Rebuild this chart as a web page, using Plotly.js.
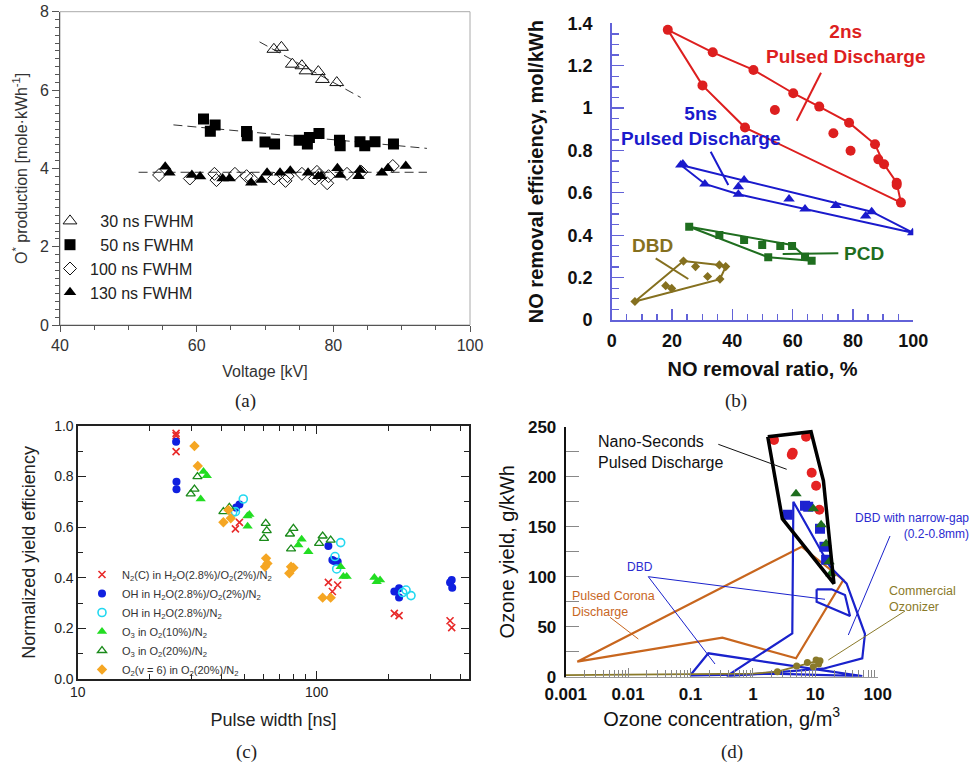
<!DOCTYPE html>
<html>
<head>
<meta charset="utf-8">
<script src="https://cdn.plot.ly/plotly-3.0.1.min.js"></script>
<style>html,body{margin:0;padding:0;background:#fff;}#chart{width:980px;height:767px;}</style>
</head>
<body>
<div id="chart"></div>
<script>
// ---------- Panel (a): O* production vs voltage ----------
const volt30 = [71.3, 72.4, 74.0, 75.4, 76.0, 77.8, 78.4, 80.5];
const prod30 = [7.04, 7.09, 6.66, 6.62, 6.49, 6.47, 6.27, 6.19];
const volt50 = [61.0, 62.0, 62.7, 67.3, 67.4, 70.0, 71.4, 75.0, 76.2, 76.5, 77.9, 80.9, 81.0, 83.9, 84.6, 86.1, 88.8];
const prod50 = [5.26, 4.95, 5.11, 4.94, 4.83, 4.67, 4.62, 4.72, 4.62, 4.79, 4.89, 4.72, 4.58, 4.68, 4.58, 4.68, 4.62];
const volt100 = [54.5, 59.0, 62.6, 62.9, 65.6, 67.3, 68.0, 71.3, 73.0, 73.3, 75.4, 77.3, 77.6, 77.9, 79.1, 79.3, 82.0, 84.1, 88.7];
const prod100 = [3.83, 3.74, 3.86, 3.70, 3.86, 3.80, 3.74, 3.74, 3.68, 3.80, 3.86, 3.74, 3.91, 3.83, 3.62, 3.80, 3.86, 3.91, 4.06];
const volt130 = [55.4, 56.0, 59.3, 60.5, 63.8, 64.8, 68.0, 69.5, 70.3, 72.2, 73.7, 76.3, 77.8, 78.2, 80.6, 81.0, 83.7, 83.9, 87.1, 88.0, 90.6];
const prod130 = [4.04, 3.89, 3.83, 3.79, 3.74, 3.74, 3.63, 3.70, 3.89, 3.89, 3.94, 3.89, 3.80, 3.80, 4.00, 3.83, 3.80, 3.96, 3.89, 4.00, 4.06];
const fit30V = [69.2, 84.0], fit30P = [7.23, 5.81];
const fit50V = [56.6, 93.7], fit50P = [5.11, 4.51];
const fitLowV = [51.5, 93.7], fitLowP = [3.90, 3.90];
const legendA = ['\u2007\u200a30 ns FWHM', '\u2007\u200a50 ns FWHM', '100 ns FWHM', '130 ns FWHM'];

// ---------- Panel (b): NO removal ----------
const ratio2ns = [18.6, 33.5, 47.0, 30.1, 60.2, 54.1, 68.8, 44.2, 78.7, 73.5, 87.3, 79.2, 88.4, 90.3, 94.5, 94.5, 95.9];
const eff2ns   = [1.369, 1.263, 1.180, 1.107, 1.070, 0.991, 1.007, 0.908, 0.931, 0.881, 0.829, 0.799, 0.758, 0.735, 0.648, 0.637, 0.554];
const hull2nsX = [18.6, 33.5, 47.0, 60.2, 68.8, 78.7, 87.3, 90.3, 94.5, 95.9, 44.2, 30.1, 18.6];
const hull2nsY = [1.369, 1.263, 1.180, 1.070, 1.007, 0.931, 0.829, 0.735, 0.648, 0.554, 0.908, 1.107, 1.369];
const ratio5ns = [22.9, 23.6, 30.9, 42.0, 42.0, 43.9, 58.8, 64.1, 74.3, 84.2, 86.2, 99.8];
const eff5ns   = [0.731, 0.736, 0.642, 0.593, 0.629, 0.661, 0.571, 0.524, 0.540, 0.491, 0.511, 0.412];
const hull5nsX = [22.9, 86.2, 99.8, 64.1, 42.0, 30.9, 22.9];
const hull5nsY = [0.731, 0.511, 0.412, 0.524, 0.593, 0.642, 0.731];
const ratioPCD = [25.7, 35.7, 43.9, 49.9, 55.9, 59.8, 51.9, 64.1, 66.3];
const effPCD   = [0.440, 0.401, 0.378, 0.354, 0.349, 0.349, 0.296, 0.299, 0.280];
const hullPCDX = [25.7, 59.8, 64.1, 66.3, 51.9, 25.7];
const hullPCDY = [0.440, 0.354, 0.299, 0.280, 0.296, 0.440];
const ratioDBD = [7.7, 17.9, 19.9, 23.8, 27.8, 31.8, 35.7, 37.8, 35.9];
const effDBD   = [0.087, 0.162, 0.149, 0.278, 0.252, 0.205, 0.260, 0.252, 0.193];
const hullDBDX = [7.7, 23.8, 35.7, 37.8, 35.9, 7.7];
const hullDBDY = [0.087, 0.278, 0.260, 0.252, 0.193, 0.087];

// ---------- Panel (c): normalized yield efficiency vs pulse width ----------
const pwN2C  = [25.8, 25.8, 25.8, 45.7, 47.5, 111.9, 116.3, 122.4, 211.3, 221.1, 361.4, 367.2];
const yN2C   = [0.970, 0.961, 0.898, 0.593, 0.619, 0.382, 0.346, 0.372, 0.260, 0.251, 0.231, 0.204];
const pwOH1  = [25.8, 25.9, 25.9, 46.0, 47.5, 111.9, 116.3, 118.0, 122.4, 211.3, 221.1, 221.1, 361.4, 367.2, 369.0];
const yOH1   = [0.937, 0.779, 0.749, 0.677, 0.689, 0.526, 0.470, 0.466, 0.464, 0.346, 0.359, 0.323, 0.382, 0.392, 0.361];
const pwOH2  = [44.5, 45.7, 49.3, 119.3, 121.2, 126.0, 229.0, 236.5, 248.1];
const yOH2   = [0.658, 0.661, 0.711, 0.484, 0.435, 0.539, 0.342, 0.352, 0.330];
const pwO3a  = [33.6, 34.7, 32.7, 51.3, 52.3, 51.4, 83.8, 86.5, 92.3, 126.0, 129.3, 133.5, 174.3, 178.2, 184.1];
const yO3a   = [0.819, 0.803, 0.711, 0.644, 0.650, 0.604, 0.530, 0.552, 0.503, 0.444, 0.405, 0.405, 0.401, 0.385, 0.392];
const pwO3b  = [29.7, 30.8, 31.7, 40.7, 43.1, 61.2, 60.2, 61.8, 77.3, 79.9, 78.1, 102.3, 105.9, 114.4];
const yO3b   = [0.731, 0.750, 0.799, 0.661, 0.678, 0.615, 0.556, 0.586, 0.573, 0.595, 0.514, 0.536, 0.565, 0.549];
const pwO2v  = [30.8, 31.8, 40.7, 42.7, 43.7, 60.8, 61.4, 62.2, 76.8, 78.1, 79.9, 105.9, 114.4];
const yO2v   = [0.920, 0.841, 0.619, 0.668, 0.635, 0.444, 0.477, 0.457, 0.418, 0.444, 0.440, 0.322, 0.322];
const namesC = [
  'N<sub>2</sub>(C) in H<sub>2</sub>O(2.8%)/O<sub>2</sub>(2%)/N<sub>2</sub>',
  'OH in H<sub>2</sub>O(2.8%)/O<sub>2</sub>(2%)/N<sub>2</sub>',
  'OH in H<sub>2</sub>O(2.8%)/N<sub>2</sub>',
  'O<sub>3</sub> in O<sub>2</sub>(10%)/N<sub>2</sub>',
  'O<sub>3</sub> in O<sub>2</sub>(20%)/N<sub>2</sub>',
  'O<sub>2</sub>(v = 6) in O<sub>2</sub>(20%)/N<sub>2</sub>'
];

// ---------- Panel (d): ozone yield vs concentration ----------
const nsRedX = [2.18, 7.11, 4.35, 4.2, 8.75, 10.3, 11.6];
const nsRedY = [236.7, 240, 224, 222, 204, 191, 167];
const nsBlueX = [3.61, 6.84, 7.7, 11.9, 14.0, 14.9];
const nsBlueY = [162, 171, 170, 148, 130, 117];
const nsGreenX = [4.91, 9.3, 12.4, 14.9, 16.6, 17.7];
const nsGreenY = [183, 168, 152, 133, 115, 103];
const nsHullX = [1.73, 8.55, 13.5, 19.9, 2.96, 1.73];
const nsHullY = [240, 245, 196, 93, 158, 240];
const coronaX = [0.00153, 6.05, 28.1, 4.91, 0.324, 0.0175, 0.00153];
const coronaY = [15, 130, 96.7, 18.4, 39, 25.7, 15];
const dbdX = [0.098, 0.193, 56.6, 2.0, 0.098];
const dbdY = [1, 23.4, 0.5, 3, 1];
const narrowX = [0.38, 4.28, 4.45, 17.2, 31.8, 62.5, 56.6, 13.4, 0.38];
const narrowY = [0.5, 43.4, 175, 110, 93, 42.7, 18.3, 8, 0.5];
const quadX = [10.5, 18.3, 29.9, 36, 10.5, 10.5];
const quadY = [87.4, 87.4, 81.7, 60.7, 75, 87.4];
const commX = [2.47, 5.03, 7.46, 9.31, 10.3, 11.9, 11.3];
const commY = [5, 10.7, 14.3, 10, 16.7, 16, 12.7];
const commLineX = [0.001, 0.1, 1, 2.47, 5.03, 7.46, 11.3];
const commLineY = [1.5, 2, 3, 5, 10, 13, 16];

// ---------- helpers ----------
const W = 980, H = 767;
const px = v => v / W;
const py = v => 1 - v / H;
const FONT = 'Liberation Sans, Arial, sans-serif';

const RED_B = '#dd1f1f', BLUE_B = '#1a1acc', GREEN_B = '#1f6e1f', OLIVE_B = '#85701f';

const traces = [];
// Panel (a)
[[fit30V, fit30P], [fit50V, fit50P], [fitLowV, fitLowP]].forEach(([x, y]) => traces.push({
  x, y, xaxis: 'x', yaxis: 'y', mode: 'lines', showlegend: false, hoverinfo: 'skip',
  line: {color: '#333', width: 1, dash: '9px,5px'}
}));
traces.push({x: volt30, y: prod30, xaxis: 'x', yaxis: 'y', mode: 'markers', name: legendA[0], legend: 'legend',
  marker: {symbol: 'triangle-up-open', size: 12, color: '#111', line: {width: 1}}});
traces.push({x: volt50, y: prod50, xaxis: 'x', yaxis: 'y', mode: 'markers', name: legendA[1], legend: 'legend',
  marker: {symbol: 'square', size: 11, color: '#000'}});
traces.push({x: volt100, y: prod100, xaxis: 'x', yaxis: 'y', mode: 'markers', name: legendA[2], legend: 'legend',
  marker: {symbol: 'diamond-open', size: 10, color: '#111', line: {width: 1}}});
traces.push({x: volt130, y: prod130, xaxis: 'x', yaxis: 'y', mode: 'markers', name: legendA[3], legend: 'legend',
  marker: {symbol: 'triangle-up', size: 11, color: '#000'}});

// Panel (b)
const addB = (hx, hy, x, y, col, sym, size) => {
  traces.push({x: hx, y: hy, xaxis: 'x2', yaxis: 'y2', mode: 'lines', showlegend: false, line: {color: col, width: 2}});
  traces.push({x, y, xaxis: 'x2', yaxis: 'y2', mode: 'markers', showlegend: false, marker: {symbol: sym, size, color: col}});
};
addB(hull2nsX, hull2nsY, ratio2ns, eff2ns, RED_B, 'circle', 10);
addB(hull5nsX, hull5nsY, ratio5ns, eff5ns, BLUE_B, 'triangle-up', 10);
addB(hullPCDX, hullPCDY, ratioPCD, effPCD, GREEN_B, 'square', 8);
addB(hullDBDX, hullDBDY, ratioDBD, effDBD, OLIVE_B, 'diamond', 7);

// Panel (c)
const cSeries = [
  [pwN2C, yN2C, {symbol: 'x-thin-open', size: 7, color: '#e82a2a', line: {width: 1.6, color: '#e82a2a'}}],
  [pwOH1, yOH1, {symbol: 'circle', size: 8, color: '#1020e0'}],
  [pwOH2, yOH2, {symbol: 'circle-open', size: 8, color: '#22d8f0', line: {width: 1.6}}],
  [pwO3a, yO3a, {symbol: 'triangle-up', size: 9, color: '#22dd22'}],
  [pwO3b, yO3b, {symbol: 'triangle-up-open', size: 8, color: '#1a8a1a', line: {width: 1.3}}],
  [pwO2v, yO2v, {symbol: 'diamond', size: 8, color: '#f5a623'}]
];
cSeries.forEach(([x, y, m], i) => traces.push({x, y, xaxis: 'x3', yaxis: 'y3', mode: 'markers', name: namesC[i],
  legend: 'legend2', marker: m}));

// Panel (d)
const lineD = (x, y, col, w) => traces.push({x, y, xaxis: 'x4', yaxis: 'y4', mode: 'lines', showlegend: false,
  line: {color: col, width: w}});
lineD(coronaX, coronaY, '#c8661e', 2.2);
lineD(dbdX, dbdY, '#1a22cc', 2.2);
lineD(narrowX, narrowY, '#1a22cc', 2.2);
lineD(quadX, quadY, '#1a22cc', 2.2);
lineD(commLineX, commLineY, '#8a7a2a', 1.8);
traces.push({x: commX, y: commY, xaxis: 'x4', yaxis: 'y4', mode: 'markers', showlegend: false,
  marker: {symbol: 'circle', size: 7, color: '#8a7a2a'}});
traces.push({x: nsRedX, y: nsRedY, xaxis: 'x4', yaxis: 'y4', mode: 'markers', showlegend: false,
  marker: {symbol: 'circle', size: 10, color: '#e52222'}});
traces.push({x: nsBlueX, y: nsBlueY, xaxis: 'x4', yaxis: 'y4', mode: 'markers', showlegend: false,
  marker: {symbol: 'square', size: 10, color: '#1e22d0'}});
traces.push({x: nsGreenX, y: nsGreenY, xaxis: 'x4', yaxis: 'y4', mode: 'markers', showlegend: false,
  marker: {symbol: 'triangle-up', size: 10, color: '#1e6e1e'}});
lineD(nsHullX, nsHullY, '#000', 3.5);

// ---------- layout ----------
const fA = {family: FONT, size: 16, color: '#333'};
const fB = {family: FONT, size: 18, color: '#111', weight: 'bold'};
const fC = {family: FONT, size: 14, color: '#222'};
const fD = {family: FONT, size: 17, color: '#111', weight: 'bold'};
const blueAx = '#6262d8';

const layout = {
  width: W, height: H, margin: {l: 0, r: 0, t: 0, b: 0},
  paper_bgcolor: '#fff', plot_bgcolor: 'rgba(0,0,0,0)',
  font: {family: FONT},
  showlegend: true,
  // (a)
  xaxis: {domain: [px(60), px(470)], anchor: 'y', range: [40, 100], showgrid: false, zeroline: false,
    showline: true, linecolor: '#555', linewidth: 1, tickvals: [40, 60, 80, 100], ticks: 'outside', ticklen: 6, tickcolor: '#555',
    minor: {dtick: 5, ticks: 'outside', ticklen: 4, tickcolor: '#555'},
    tickfont: fA, title: {text: 'Voltage [kV]', font: fA, standoff: 12}},
  yaxis: {domain: [py(325), py(11.7)], anchor: 'x', range: [0, 8], showgrid: false, zeroline: false,
    showline: true, linecolor: '#555', linewidth: 1, dtick: 2,
    ticks: 'outside', ticklen: 7, tickcolor: '#555', minor: {dtick: 0.2, ticks: 'outside', ticklen: 4, tickcolor: '#555'},
    tickfont: fA, title: {text: 'O<sup>*</sup> production [mole\u00b7kWh<sup>-1</sup>]', font: fA, standoff: 8}},
  // (b)
  xaxis2: {domain: [px(611.7), px(913.3)], anchor: 'y2', range: [0, 100], showgrid: false, zeroline: false,
    showline: true, linecolor: blueAx, linewidth: 1.5, dtick: 20, ticks: 'inside', ticklen: 11, tickcolor: blueAx, tickwidth: 1.3,
    minor: {dtick: 5, ticks: 'inside', ticklen: 6, tickcolor: blueAx, tickwidth: 1.3},
    tickfont: fB, ticklabelstandoff: 4,
    title: {text: 'NO removal ratio, %', font: {family: FONT, size: 20, color: '#111', weight: 'bold'}, standoff: 12}},
  yaxis2: {domain: [py(320), py(23.3)], anchor: 'x2', range: [0, 1.4], showgrid: false, zeroline: false,
    showline: true, linecolor: blueAx, linewidth: 1.5, dtick: 0.2, ticks: 'inside', ticklen: 12, tickcolor: blueAx, tickwidth: 1.3,
    minor: {dtick: 0.05, ticks: 'inside', ticklen: 7, tickcolor: blueAx, tickwidth: 1.3},
    tickfont: fB, ticklabelstandoff: 14,
    title: {text: 'NO removal efficiency, mol/kWh', font: {family: FONT, size: 20, color: '#111', weight: 'bold'}, standoff: 18}},
  // (c)
  xaxis3: {domain: [px(77.7), px(469.3)], anchor: 'y3', type: 'log', range: [1, 2.6385], showgrid: false, zeroline: false,
    showline: true, linecolor: '#222', linewidth: 1.3, mirror: 'ticks', tickvals: [10, 100], ticktext: ['10', '100'],
    ticks: 'inside', ticklen: 8, tickcolor: '#222', minor: {dtick: 'D1', ticks: 'inside', ticklen: 5, tickcolor: '#222'},
    tickfont: fC, title: {text: 'Pulse width [ns]', font: {family: FONT, size: 18, color: '#222'}, standoff: 14}},
  yaxis3: {domain: [py(679.3), py(425.7)], anchor: 'x3', range: [0, 1], showgrid: false, zeroline: false,
    showline: true, linecolor: '#222', linewidth: 1.3, mirror: 'ticks', dtick: 0.2, tickformat: '.1f',
    ticks: 'inside', ticklen: 8, tickcolor: '#222', minor: {dtick: 0.1, ticks: 'inside', ticklen: 5, tickcolor: '#222'},
    tickfont: fC, title: {text: 'Normalized yield efficiency', font: {family: FONT, size: 18, color: '#222'}, standoff: 13}},
  // (d)
  xaxis4: {domain: [px(565.7), px(877.7)], anchor: 'y4', type: 'log', range: [-3, 2], showgrid: false, zeroline: false,
    showline: true, linecolor: '#999', linewidth: 1, tickvals: [0.001, 0.01, 0.1, 1, 10, 100],
    ticktext: ['0.001', '0.01', '0.1', '1', '10', '100'], ticks: 'inside', ticklen: 9, tickcolor: '#888',
    minor: {dtick: 'D1', ticks: 'inside', ticklen: 7, tickcolor: '#888'},
    tickfont: fD, ticklabelstandoff: 2,
    title: {text: 'Ozone concentration, g/m<sup>3</sup>', font: {family: FONT, size: 20, color: '#111'}, standoff: 8}},
  yaxis4: {domain: [py(676.7), py(426.7)], anchor: 'x4', range: [0, 250], showgrid: false, zeroline: false,
    showline: true, linecolor: '#111', linewidth: 2, dtick: 50, ticks: 'inside', ticklen: 13, tickcolor: '#888', tickwidth: 1.5,
    minor: {dtick: 25, ticks: 'inside', ticklen: 13, tickcolor: '#888', tickwidth: 1.5},
    tickfont: fD, ticklabelstandoff: 4,
    title: {text: 'Ozone yield, g/kWh', font: {family: FONT, size: 20, color: '#111'}, standoff: 8}},
  yaxis5: {overlaying: 'y4', anchor: 'x4', side: 'right', range: [0, 250], showgrid: false, zeroline: false,
    showline: true, linecolor: '#888', linewidth: 2, dtick: 25, ticks: 'inside', ticklen: 13, tickcolor: '#888', tickwidth: 1.5,
    showticklabels: false},
  legend: {x: px(50), y: py(204), xanchor: 'left', yanchor: 'top', bgcolor: 'rgba(0,0,0,0)',
    font: {family: FONT, size: 16, color: '#222'}, tracegroupgap: 0},
  legend2: {x: px(82), y: py(560), xanchor: 'left', yanchor: 'top', bgcolor: 'rgba(0,0,0,0)',
    font: {family: FONT, size: 11, color: '#333'}, tracegroupgap: 0},
  shapes: [
    {type: 'rect', xref: 'x domain', yref: 'y domain', x0: 0, x1: 1, y0: 0, y1: 1, layer: 'below',
      line: {color: '#aaa', width: 1}}
  ],
  annotations: []
};

const ann = layout.annotations;
const txt = (x, y, text, col, size, opts) => ann.push(Object.assign({xref: 'paper', yref: 'paper', x: px(x), y: py(y),
  text, showarrow: false, font: {family: FONT, size, color: col}, xanchor: 'center', yanchor: 'middle'}, opts || {}));
// leader lines (paper coordinates, from pixel positions)
const lead = (x0, y0, x1, y1, col, w) => layout.shapes.push({type: 'line', xref: 'paper', yref: 'paper',
  x0: px(x0), y0: py(y0), x1: px(x1), y1: py(y1), line: {color: col, width: w}});

// sub-figure labels
const SERIF = 'Liberation Serif, DejaVu Serif, serif';
[['(a)', 245, 401], ['(b)', 736, 401], ['(c)', 246, 752], ['(d)', 732, 752]].forEach(([t, x, y]) =>
  ann.push({xref: 'paper', yref: 'paper', x: px(x), y: py(y), text: t, showarrow: false,
    font: {family: SERIF, size: 19, color: '#222'}, xanchor: 'center', yanchor: 'middle'}));

// (b) labels
txt(845, 44, '2ns<br>Pulsed Discharge', RED_B, 19, {font: {family: FONT, size: 19, color: RED_B, weight: 'bold'}});
txt(700, 126, '5ns<br>Pulsed Discharge', BLUE_B, 19, {font: {family: FONT, size: 19, color: BLUE_B, weight: 'bold'}});
txt(652, 246, 'DBD', OLIVE_B, 19, {font: {family: FONT, size: 19, color: OLIVE_B, weight: 'bold'}});
txt(864, 254, 'PCD', GREEN_B, 19, {font: {family: FONT, size: 19, color: GREEN_B, weight: 'bold'}});
lead(821, 72.7, 796.7, 120.7, RED_B, 2);
lead(710.7, 151.7, 728.3, 185, BLUE_B, 2);
lead(782.7, 254, 838.3, 253.3, GREEN_B, 2);
lead(655.7, 258.3, 688.3, 279, OLIVE_B, 2);

// (d) labels
txt(596, 452, 'Nano-Seconds<br>Pulsed Discharge', '#111', 16, {xanchor: 'left', align: 'left'});
txt(971, 525.5, 'DBD with narrow-gap<br>(0.2-0.8mm)', '#2a2ad0', 12, {xanchor: 'right', align: 'right'});
txt(640, 567, 'DBD', '#2a2ad0', 12);
txt(570, 603.5, 'Pulsed Corona<br>Discharge', '#c8661e', 12.5, {xanchor: 'left', align: 'left'});
txt(887, 599, 'Commercial<br>Ozonizer', '#8a7a2a', 12.5, {xanchor: 'left', align: 'left'});
lead(718.3, 444.3, 786.7, 469.3, '#111', 1);
lead(890, 536, 848.3, 635, '#1a22cc', 1);
lead(648.3, 576.7, 825, 599.3, '#1a22cc', 1);
lead(648.3, 576.7, 715, 664, '#1a22cc', 1);
lead(610, 617.3, 638.3, 639, '#c8661e', 1);
lead(905, 611, 828.3, 660, '#8a7a2a', 1);

Plotly.newPlot('chart', traces, layout, {displayModeBar: false, staticPlot: true});
</script>
</body>
</html>
